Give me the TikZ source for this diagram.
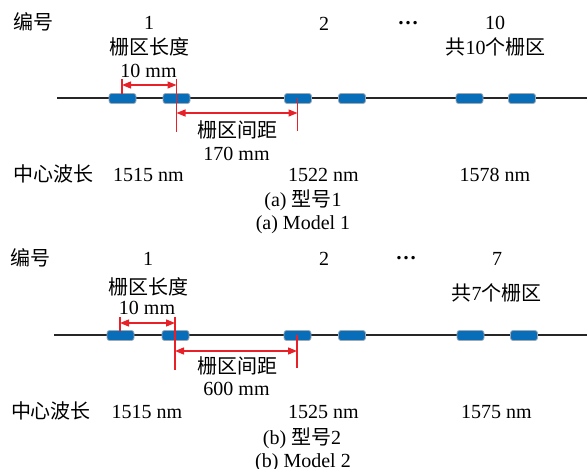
\documentclass[tikz,border=0pt]{standalone}
\usepackage{fontspec}
\setmainfont{Liberation Serif}
\newfontfamily\cjk{Noto Sans CJK SC}
\usetikzlibrary{arrows.meta}
\newcommand\zh[1]{{\cjk #1}}
\definecolor{gblue}{RGB}{8,110,186}
\definecolor{gedge}{RGB}{160,168,178}
\definecolor{dred}{RGB}{232,32,40}
\begin{document}
\begin{tikzpicture}[x=1pt,y=-1pt,
  txt/.style={inner sep=0pt, anchor=base, font=\fontsize{20}{24}\selectfont},
  dotstxt/.style={txt, font=\fontsize{21}{24}\selectfont\bfseries},
  grating/.style={draw=gedge, line width=0.8pt, fill=gblue, rounded corners=2.5pt,
    minimum width=27pt, minimum height=10pt, inner sep=0pt},
  fiber/.style={line width=1.3pt, draw=black!85},
  dim/.style={draw=dred, line width=1.3pt},
  dimarrow/.style={dim, {Triangle[length=9pt,width=7pt]}-{Triangle[length=9pt,width=7pt]}},
]
\useasboundingbox (0,0) rectangle (587,469);

% ---------------- Panel (a) ----------------
\coordinate (fa0) at (57,98);
\coordinate (fa1) at (587,98);
\draw[fiber] (fa0) -- (fa1);
\node[grating] (ga1) at (122.5,98.5) {};
\node[grating] (ga2) at (176.5,98.5) {};
\node[grating] (ga3) at (298,98.5) {};
\node[grating] (ga4) at (352,98.5) {};
\node[grating] (ga5) at (469.5,98.5) {};
\node[grating] (ga6) at (522,98.5) {};

\coordinate (ta1) at (122,79);  \coordinate (ba1) at (122,94);
\coordinate (ta2) at (176.5,79); \coordinate (ba2) at (176.5,132);
\coordinate (ta3) at (297.5,98); \coordinate (ba3) at (297.5,131);
\draw[dim] (ta1) -- (ba1);
\draw[dim] (ta2) -- (ba2);
\draw[dim] (ta3) -- (ba3);
\coordinate (la1) at (122,85); \coordinate (la2) at (176.5,85);
\draw[dimarrow] (la1) -- (la2);
\coordinate (sa1) at (176.5,113); \coordinate (sa2) at (297.5,113);
\draw[dimarrow] (sa1) -- (sa2);

\node[txt] (laba) at (33,29) {\zh{编号}};
\node[txt] (na1) at (149,29) {1};
\node[txt] (na2) at (324,30) {2};
\node[dotstxt] (dotsa) at (408,24) {…};
\node[txt] (na10) at (495,29) {10};
\node[txt] (lenlaba) at (149,54) {\zh{栅区长度}};
\node[txt] (tota) at (495.5,54) {\zh{共}10\zh{个栅区}};
\node[txt] (lenvala) at (148.5,77) {10 mm};
\node[txt] (splaba) at (237,137) {\zh{栅区间距}};
\node[txt] (spvala) at (236.5,160) {170 mm};
\node[txt] (wla) at (53.5,181) {\zh{中心波长}};
\node[txt] (wa1) at (148.5,181) {1515 nm};
\node[txt] (wa2) at (323.5,181) {1522 nm};
\node[txt] (wa3) at (495,181) {1578 nm};
\node[txt] (capa) at (303,206) {(a) \zh{型号}1};
\node[txt] (capae) at (303,229) {(a) Model 1};

% ---------------- Panel (b) ----------------
\coordinate (fb0) at (54,335);
\coordinate (fb1) at (587,335);
\draw[fiber] (fb0) -- (fb1);
\node[grating] (gb1) at (120.5,335.5) {};
\node[grating] (gb2) at (175.5,335.5) {};
\node[grating] (gb3) at (297.5,335.5) {};
\node[grating] (gb4) at (352,335.5) {};
\node[grating] (gb5) at (470.5,335.5) {};
\node[grating] (gb6) at (524,335.5) {};

\coordinate (tb1) at (120,317);  \coordinate (bb1) at (120,331);
\coordinate (tb2) at (175,317);  \coordinate (bb2) at (175,370);
\coordinate (tb3) at (297,335);  \coordinate (bb3) at (297,368);
\draw[dim] (tb1) -- (bb1);
\draw[dim] (tb2) -- (bb2);
\draw[dim] (tb3) -- (bb3);
\coordinate (lb1) at (120,323); \coordinate (lb2) at (175,323);
\draw[dimarrow] (lb1) -- (lb2);
\coordinate (sb1) at (175,351); \coordinate (sb2) at (297,351);
\draw[dimarrow] (sb1) -- (sb2);

\node[txt] (labb) at (30,265) {\zh{编号}};
\node[txt] (nb1) at (148,265) {1};
\node[txt] (nb2) at (324,265) {2};
\node[dotstxt] (dotsb) at (406,259) {…};
\node[txt] (nb7) at (497,265) {7};
\node[txt] (lenlabb) at (148.5,294) {\zh{栅区长度}};
\node[txt] (totb) at (496.5,300) {\zh{共}7\zh{个栅区}};
\node[txt] (lenvalb) at (147,314) {10 mm};
\node[txt] (splabb) at (237,373) {\zh{栅区间距}};
\node[txt] (spvalb) at (236.5,395) {600 mm};
\node[txt] (wlb) at (51,418) {\zh{中心波长}};
\node[txt] (wb1) at (147,418) {1515 nm};
\node[txt] (wb2) at (323.5,418) {1525 nm};
\node[txt] (wb3) at (496.5,418) {1575 nm};
\node[txt] (capb) at (302,444) {(b) \zh{型号}2};
\node[txt] (capbe) at (303,467) {(b) Model 2};
\end{tikzpicture}
\end{document}
